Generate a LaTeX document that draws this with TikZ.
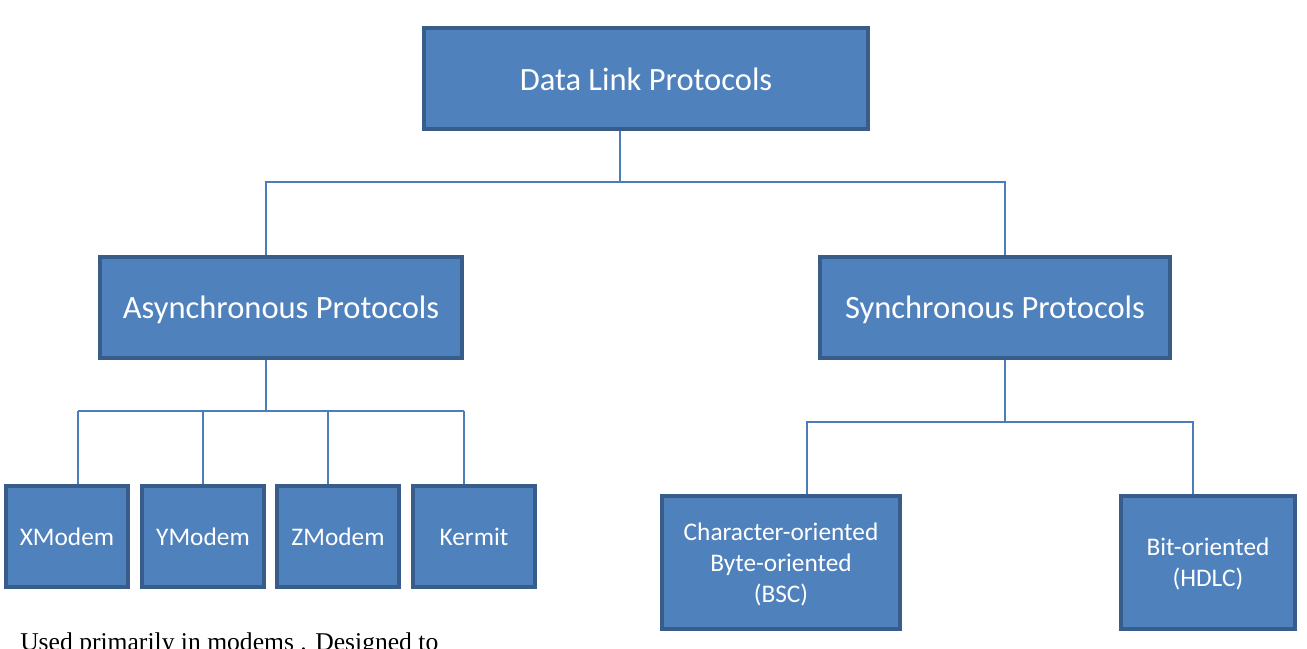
\documentclass[tikz,border=0pt]{standalone}
\usepackage{fontspec}
\setmainfont{Carlito}
\newfontfamily\notefont{Liberation Serif}
\usepackage{xcolor}
\usetikzlibrary{positioning}
\definecolor{boxfill}{HTML}{4F81BD}
\definecolor{boxline}{HTML}{385D8A}
\definecolor{linkcol}{HTML}{4A7EBB}
\tikzset{
    protnode/.style = {align=center, inner sep=0pt, text centered, rectangle, text=white, draw=boxline, fill=boxfill, line width=3pt},
    big_node/.style = {protnode, font=\fontsize{24.4}{29}\selectfont, minimum height=75.75pt, text depth=0pt},
    leaf_node/.style = {protnode, font=\fontsize{19}{23.3}\selectfont, minimum width=91.5pt, minimum height=75.75pt, text depth=0pt},
    sync_node/.style = {protnode, font=\fontsize{19}{23.3}\selectfont, minimum height=99.75pt, text depth=0pt},
    link/.style = {draw=linkcol, line width=1.1pt}
}

\begin{document}
\begin{tikzpicture}[x=0.75pt, y=-0.75pt]
    \clip (0,0) rectangle (1307,649);

    % top level
    \node [big_node, minimum width=333pt] (dlp) at (646,79) {Data Link Protocols};
    % second level
    \node [big_node, minimum width=271.5pt] (async) at (281,307.5) {Asynchronous Protocols};
    \node [big_node, minimum width=262.5pt] (sync) at (995,307.5) {Synchronous Protocols};
    % asynchronous leaves
    \node [leaf_node] (xm) at (67,536.5) {XModem};
    \node [leaf_node] (ym) at (203,536.5) {YModem};
    \node [leaf_node] (zm) at (338,536.5) {ZModem};
    \node [leaf_node] (km) at (474,536.5) {Kermit};
    % synchronous leaves
    \node [sync_node, minimum width=178.5pt] (co) at (781,562.5) {Character-oriented\\Byte-oriented\\(BSC)};
    \node [sync_node, minimum width=130.5pt] (bo) at (1208,562.5) {Bit-oriented\\(HDLC)};

    % connectors
    \coordinate (t1) at (620,182);
    \coordinate (ta) at (266,182);
    \coordinate (ts) at (1005,182);
    \draw [link] (t1 |- dlp.south) -- (t1);
    \draw [link] (ta |- async.north) -- (ta) -- (ts) -- (ts |- sync.north);

    \coordinate (ba) at (266,411);
    \coordinate (ba1) at (78,411);
    \coordinate (ba2) at (464,411);
    \draw [link] (ba |- async.south) -- (ba);
    \draw [link] (ba1) -- (ba2);
    \foreach \n/\x in {xm/78, ym/203, zm/328, km/464}
        \draw [link] (\x,411) -- (\x,411 |- \n.north);

    \coordinate (bs) at (1005,422);
    \coordinate (bs1) at (807,422);
    \coordinate (bs2) at (1193,422);
    \draw [link] (bs |- sync.south) -- (bs);
    \draw [link] (bs1 |- co.north) -- (bs1) -- (bs2) -- (bs2 |- bo.north);

    % cut-off note
    \node [anchor=base west, inner sep=0pt, font=\notefont\fontsize{19.2}{23}\selectfont] (note) at (20,650) {Used primarily in modems . Designed to};
\end{tikzpicture}
\end{document}
